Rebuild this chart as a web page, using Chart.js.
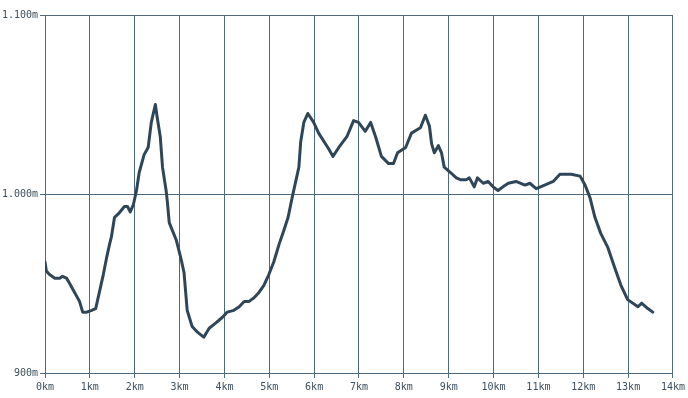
<!DOCTYPE html>
<html>
<head>
<meta charset="utf-8">
<script src="https://cdn.jsdelivr.net/npm/chart.js@4/dist/chart.umd.min.js"></script>
<style>
html,body{margin:0;padding:0;background:#fff;}
#wrap{width:688px;height:398px;position:relative;}
</style>
</head>
<body>
<div id="wrap"><canvas id="c" width="688" height="398"></canvas></div>
<script>
const distanceKm = [0.00,0.03,0.10,0.22,0.33,0.39,0.48,0.55,0.66,0.77,0.84,0.93,1.04,1.13,1.22,1.30,1.37,1.44,1.48,1.55,1.64,1.77,1.84,1.90,1.97,2.04,2.10,2.21,2.30,2.37,2.46,2.50,2.57,2.62,2.70,2.73,2.77,2.93,3.04,3.10,3.17,3.28,3.39,3.54,3.66,3.81,3.95,4.06,4.21,4.33,4.44,4.55,4.66,4.77,4.88,4.99,5.10,5.22,5.33,5.42,5.51,5.66,5.70,5.77,5.86,5.99,6.10,6.33,6.42,6.55,6.73,6.88,6.99,7.14,7.26,7.37,7.50,7.66,7.77,7.86,8.04,8.17,8.37,8.48,8.57,8.62,8.68,8.77,8.84,8.90,9.04,9.17,9.26,9.39,9.46,9.57,9.64,9.77,9.88,9.99,10.10,10.21,10.33,10.50,10.70,10.81,10.95,11.14,11.33,11.48,11.73,11.93,12.04,12.15,12.26,12.39,12.55,12.70,12.84,12.99,13.22,13.30,13.44,13.55];
const elevationM = [962,957,955,953,953,954,953,950,945,940,934,934,935,936,946,955,964,972,976,987,989,993,993,990,994,1002,1012,1022,1026,1040,1050,1043,1032,1015,1002,995,984,974,963,956,935,926,923,920,925,928,931,934,935,937,940,940,942,945,949,955,962,972,980,987,998,1015,1029,1040,1045,1040,1034,1025,1021,1026,1032,1041,1040,1035,1040,1032,1021,1017,1017,1023,1026,1034,1037,1044,1038,1028,1023,1027,1023,1015,1012,1009,1008,1008,1009,1004,1009,1006,1007,1004,1002,1004,1006,1007,1005,1006,1003,1005,1007,1011,1011,1010,1005,998,987,978,970,959,949,941,937,939,936,934];
const xTickLabels = ['0km','1km','2km','3km','4km','5km','6km','7km','8km','9km','10km','11km','12km','13km','14km'];
const yTickValues = [900,1000,1100];
const yTickLabels = ['900m','1.000m','1.100m'];

const points = distanceKm.map((d,i)=>({x:d,y:elevationM[i]}));
const gridColor = '#4e6a7f';
const textColor = '#3d4f5e';
const font = {family:'"DejaVu Sans Mono", monospace', size:10};

new Chart(document.getElementById('c'), {
  type:'line',
  data:{datasets:[{
    data:points,
    borderColor:'#2f4658',
    borderWidth:3,
    pointRadius:0,
    tension:0,
    fill:false,
    borderJoinStyle:'round',
    borderCapStyle:'round'
  }]},
  options:{
    responsive:false,
    animation:false,
    layout:{padding:{top:15,right:12,bottom:0,left:0}},
    plugins:{legend:{display:false},tooltip:{enabled:false}},
    scales:{
      x:{
        type:'linear',min:0,max:14,
        afterFit:(s)=>{s.height=25;},
        afterBuildTicks:(s)=>{s.ticks = xTickLabels.map((_,i)=>({value:i}));},
        ticks:{stepSize:1,autoSkip:false,maxRotation:0,color:textColor,font:font,padding:3,
          callback:(v)=>xTickLabels[v] ?? ''},
        grid:{color:gridColor,lineWidth:1,tickLength:5,drawTicks:true},
        border:{color:gridColor,width:1}
      },
      y:{
        type:'linear',min:900,max:1100,
        afterFit:(s)=>{s.width=45;},
        afterBuildTicks:(s)=>{s.ticks = yTickValues.map(v=>({value:v}));},
        ticks:{color:textColor,font:font,padding:2,
          callback:(v)=>{const i=yTickValues.indexOf(v);return i>=0?yTickLabels[i]:'';}},
        grid:{color:gridColor,lineWidth:1,tickLength:5,drawTicks:true},
        border:{color:gridColor,width:1}
      }
    }
  }
});
</script>
</body>
</html>
